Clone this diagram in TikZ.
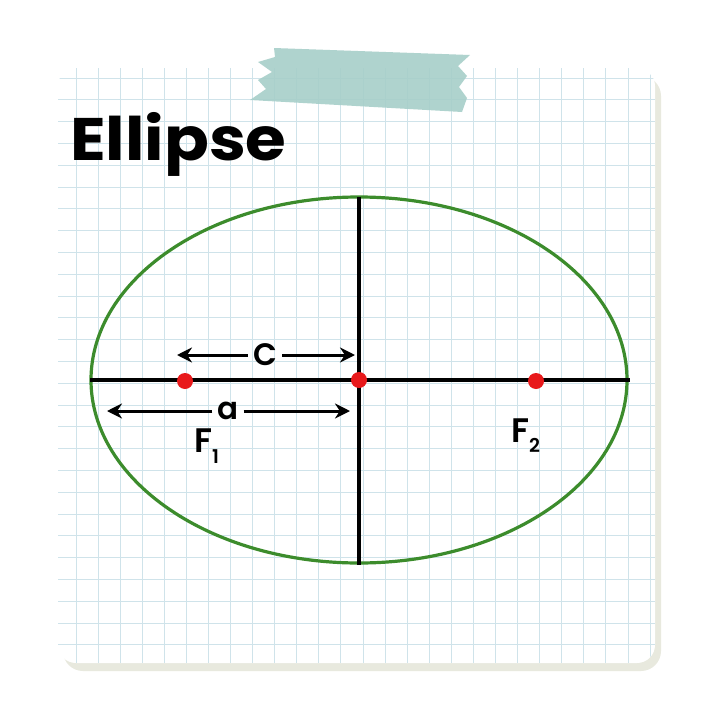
\documentclass[tikz,border=0pt]{standalone}
\usepackage{fontspec}
\setmainfont{Poppins}
\newfontfamily\titlefont{Poppins}
\newfontfamily\labfont{Poppins SemiBold}
\usetikzlibrary{arrows.meta}

\definecolor{gridblue}{HTML}{CFE3EA}
\definecolor{tapegreen}{HTML}{A7CFC9}
\definecolor{shadowgray}{HTML}{E8E9DE}
\definecolor{curvegreen}{HTML}{3C8C2C}
\definecolor{dotred}{HTML}{E8191B}

\tikzset{
  gridline/.style={gridblue, line width=1pt},
  axisline/.style={black, line width=3.8pt},
  dimarrow/.style={-{Stealth[length=15pt,width=15pt]}, line width=3pt},
  focusdot/.style={circle, fill=dotred, inner sep=0pt, minimum size=16pt},
  lab/.style={font=\labfont\fontsize{31}{31}\selectfont, inner sep=5pt},
}

\begin{document}
\begin{tikzpicture}[x=1pt,y=-1pt]
\useasboundingbox (0,0) rectangle (720,720);
\fill[white] (0,0) rectangle (720,720);
% paper sheet with its shadow
\fill[shadowgray, rounded corners=20pt] (63,76) rectangle (661,671);
\fill[white, rounded corners=18pt] (58,68) rectangle (655,663);
\begin{scope}
\clip[rounded corners=18pt] (58,68) rectangle (655,663);
\foreach \k in {0,...,26} {
  \draw[gridline] ({76+22.08*\k},68) -- ({76+22.08*\k},663);
  \draw[gridline] (58,{78+21.8*\k}) -- (655,{78+21.8*\k});
}
\end{scope}
% tape
\fill[tapegreen, opacity=0.9] (274,48) -- (470,55) -- (458,66) -- (467,76) -- (459,87)
  -- (467,98) -- (462,112) -- (250,100) -- (266,89) -- (258,80) -- (272,72)
  -- (258,62) -- (275,57) -- cycle;
% title
\node[anchor=base west, inner sep=0pt, font=\titlefont\fontsize{60}{60}\selectfont\bfseries]
  (title) at (70,160) {\scalebox{1.1}[1]{Ellipse}};
% ellipse and axes
\coordinate (O) at (359,380);
\draw[curvegreen, line width=3.2pt] (O) ellipse [x radius=268, y radius=183];
\coordinate (axL) at (90,380);
\coordinate (axR) at (630,380);
\coordinate (axT) at (359,197);
\coordinate (axB) at (359,565);
\draw[axisline] (axL) -- (axR);
\draw[axisline] (axT) -- (axB);
\node[focusdot] (F1) at (185,381) {};
\node[focusdot] (Odot) at (O) {};
\node[focusdot] (F2) at (536,381) {};
% c
\node[lab] (clab) at (265,355) {C};
\coordinate (cL) at (177,355);
\coordinate (cR) at (355,355);
\draw[dimarrow] (clab) -- (cL);
\draw[dimarrow] (clab) -- (cR);
% a
\node[lab] (alab) at (228,411) {a};
\coordinate (aL) at (107,411);
\coordinate (aR) at (350,411);
\draw[dimarrow] (alab) -- (aL);
\draw[dimarrow] (alab) -- (aR);
% foci
\node[lab, anchor=base west, inner sep=0pt, font=\labfont\fontsize{34}{34}\selectfont]
  (F1lab) at (194,452) {F\raisebox{-11pt}{\fontsize{19}{19}\selectfont 1}};
\node[lab, anchor=base west, inner sep=0pt, font=\labfont\fontsize{34}{34}\selectfont]
  (F2lab) at (511,442) {F\raisebox{-10pt}{\fontsize{19}{19}\selectfont 2}};
\end{tikzpicture}
\end{document}
